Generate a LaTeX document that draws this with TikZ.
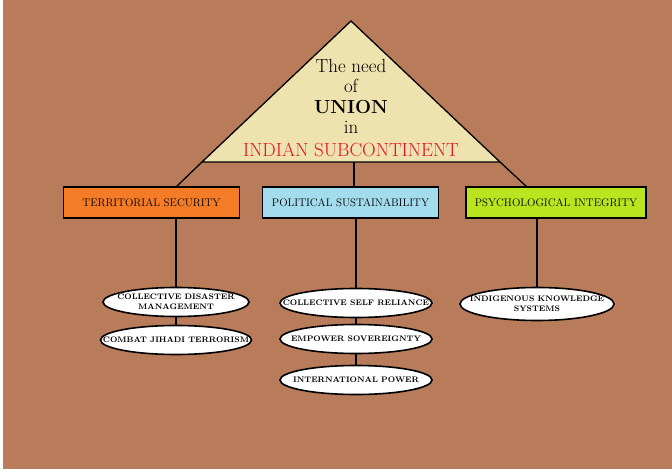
\documentclass[tikz,border=0pt]{standalone}
\usetikzlibrary{shapes.geometric}
\definecolor{bgbrown}{RGB}{185,124,90}
\definecolor{trifill}{RGB}{238,226,175}
\definecolor{titlered}{RGB}{222,18,40}
\definecolor{tsorange}{RGB}{244,124,38}
\definecolor{psblue}{RGB}{163,220,236}
\definecolor{pilime}{RGB}{185,229,30}
\begin{document}
\begin{tikzpicture}[x=1pt,y=-1pt,
  link/.style={line width=1.3pt},
  catbox/.style={draw=black,line width=1.6pt,minimum width=176pt,minimum height=31pt,inner sep=0pt,font=\fontsize{11}{13}\selectfont},
  leaf/.style={ellipse,draw=black,fill=white,line width=1.6pt,minimum height=29pt,inner sep=0pt},
  leaflbl/.style={align=center,inner sep=0pt,font=\fontsize{8}{9.5}\selectfont\bfseries}]
\useasboundingbox (0,0) rectangle (672,473);
\fill[white] (0,0) rectangle (672,473);
\fill[bgbrown] (3,0) rectangle (672,469);

% the triangle
\coordinate (apex) at (351,21);
\coordinate (bl) at (202,162);
\coordinate (br) at (500,162);
\coordinate (mid) at (354,162);
\coordinate (lfoot) at (176,187);
\coordinate (rfoot) at (527,187);
\filldraw[fill=trifill,link] (apex) -- (bl) -- (br) -- cycle;
\node[align=center,anchor=north,inner sep=0pt,font=\fontsize{19}{20.5}\selectfont] (title) at (351,59)
  {The need\\of\\{\bfseries UNION}\\in\\[2pt]\textcolor{titlered}{INDIAN SUBCONTINENT}};

% three heads
\node[catbox,fill=tsorange] (terr) at (151.5,202.5) {TERRITORIAL SECURITY};
\node[catbox,fill=psblue] (pol) at (350.5,202.5) {POLITICAL SUSTAINABILITY};
\node[catbox,fill=pilime,minimum width=180pt] (psy) at (556,202.5) {PSYCHOLOGICAL INTEGRITY};

\draw[link] (bl) -- (lfoot);
\draw[link] (br) -- (rfoot);
\draw[link] (mid) -- (mid |- pol.north);

% leaves
\node[leaf,minimum width=146pt,label={[leaflbl]center:COLLECTIVE DISASTER\\MANAGEMENT}] (cdm) at (176,302) {};
\node[leaf,minimum width=151pt,label={[leaflbl]center:COMBAT JIHADI TERRORISM}] (cjt) at (176,340) {};
\node[leaf,minimum width=152pt,label={[leaflbl]center:COLLECTIVE SELF RELIANCE}] (csr) at (356,303) {};
\node[leaf,minimum width=152pt,label={[leaflbl]center:EMPOWER SOVEREIGNTY}] (esv) at (356,339) {};
\node[leaf,minimum width=152pt,label={[leaflbl]center:INTERNATIONAL POWER}] (ipw) at (356,380) {};
\node[leaf,minimum width=154pt,minimum height=33pt,label={[leaflbl]center:INDIGENOUS KNOWLEDGE\\SYSTEMS}] (iks) at (537,304) {};

\draw[link] (cdm.north |- terr.south) -- (cdm.north);
\draw[link] (cdm.south) -- (cjt.north);
\draw[link] (csr.north |- pol.south) -- (csr.north);
\draw[link] (csr.south) -- (esv.north);
\draw[link] (esv.south) -- (ipw.north);
\draw[link] (iks.north |- psy.south) -- (iks.north);
\end{tikzpicture}
\end{document}
